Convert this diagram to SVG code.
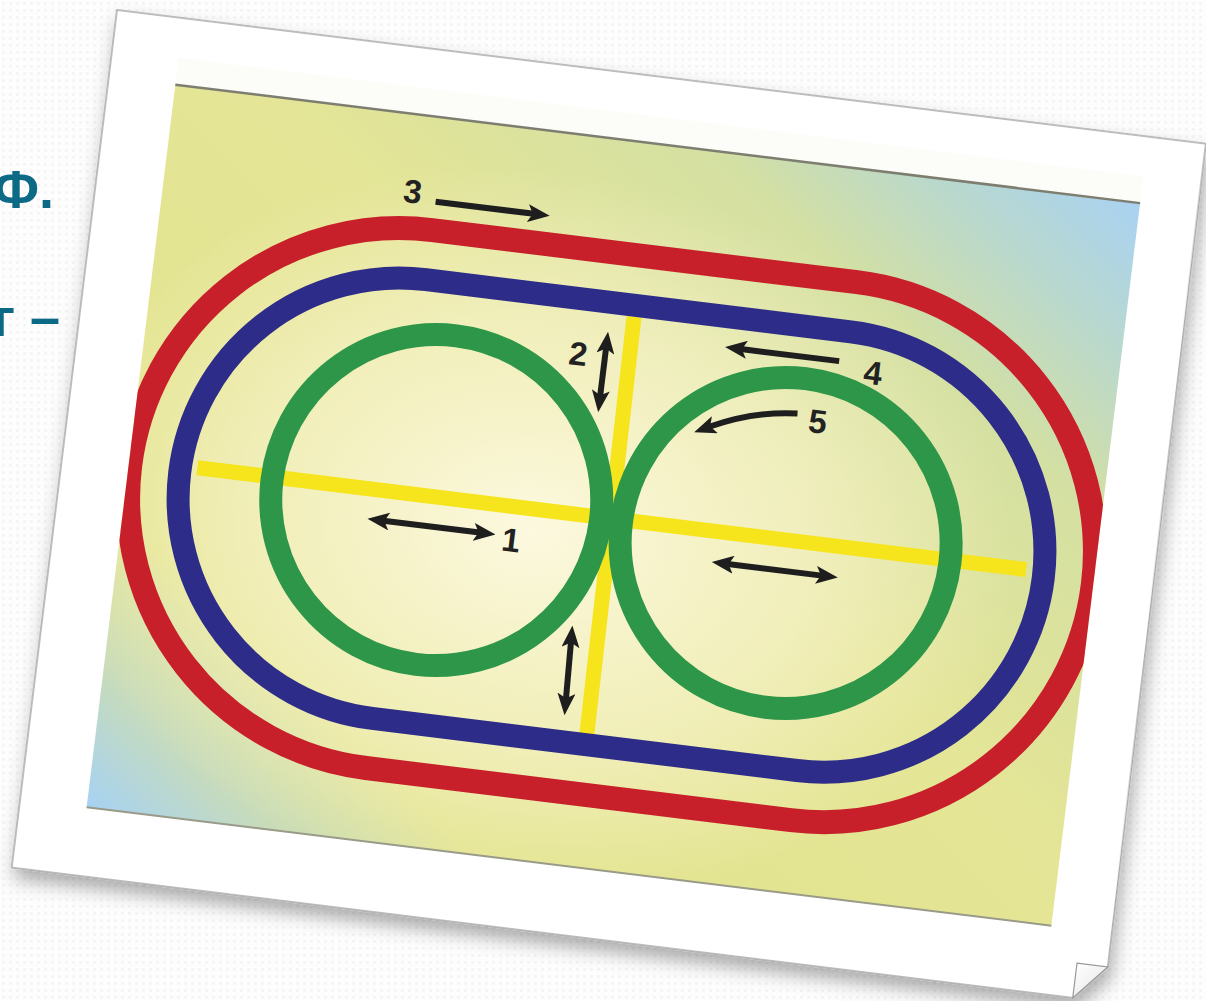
<svg xmlns="http://www.w3.org/2000/svg" width="1206" height="1001" viewBox="0 0 1206 1001">
  <defs>
    <pattern id="tex" width="7" height="7" patternUnits="userSpaceOnUse">
      <rect width="7" height="7" fill="#fdfdfd"/>
      <circle cx="3.5" cy="3.5" r="1.4" fill="#f3f3f3"/>
    </pattern>
    <filter id="shadow" x="-10%" y="-10%" width="120%" height="125%">
      <feDropShadow dx="4" dy="10" stdDeviation="9" flood-color="#000" flood-opacity="0.32"/>
    </filter>
    <linearGradient id="bg" x1="0" y1="1" x2="1" y2="0">
      <stop offset="0" stop-color="#a6d2f3"/>
      <stop offset="0.1" stop-color="#c9dcb8"/>
      <stop offset="0.2" stop-color="#e3e48e"/>
      <stop offset="0.55" stop-color="#e4e596"/>
      <stop offset="0.78" stop-color="#d4e0a2"/>
      <stop offset="0.9" stop-color="#b8d8cf"/>
      <stop offset="1" stop-color="#a9d2f2"/>
    </linearGradient>
    <radialGradient id="glow" cx="0.42" cy="0.55" r="0.5">
      <stop offset="0" stop-color="#fffbe8" stop-opacity="0.9"/>
      <stop offset="0.6" stop-color="#fbf6d6" stop-opacity="0.55"/>
      <stop offset="1" stop-color="#fbf6d6" stop-opacity="0"/>
    </radialGradient>
    <linearGradient id="fold" x1="0" y1="0" x2="1" y2="1">
      <stop offset="0" stop-color="#ffffff"/>
      <stop offset="1" stop-color="#e4e4e4"/>
    </linearGradient>
    <clipPath id="pic">
      <rect x="67" y="67" width="972" height="728"/>
    </clipPath>
    <marker id="ah" viewBox="0 0 22 18" refX="6" refY="9" markerWidth="22" markerHeight="18" markerUnits="userSpaceOnUse" orient="auto-start-reverse">
      <path d="M0,0 L22,9 L0,18 L5,9 Z" fill="#1e1e1e"/>
    </marker>
    <style>
      .band{fill:none;stroke-linejoin:round}
      .red{stroke:#c8202b;stroke-width:24}
      .blue{stroke:#2d2c88;stroke-width:23}
      .green{stroke:#2e9648;stroke-width:23}
      .yellow{stroke:#f6e41c;stroke-width:15;fill:none}
      .arr{stroke:#1e1e1e;stroke-width:6;fill:none}
      .lbl{font-family:"Liberation Sans",Arial,sans-serif;font-weight:bold;font-size:33px;fill:#222;text-anchor:middle}
      .side{font-family:"Liberation Sans",Arial,sans-serif;font-weight:bold;font-size:54px;fill:#0d6a86;text-anchor:end}
    </style>
  </defs>

  <rect width="1206" height="1001" fill="url(#tex)"/>

  <g id="side-text">
    <text class="side" x="54" y="208">Ф.</text>
    <text class="side" x="60" y="336">г –</text>
  </g>

  <g id="photo" transform="translate(117,10) rotate(7)">
    <path id="paper" d="M0,0 H1097 L1100,829 L1069,864 H0 Z" fill="#fff" stroke="#a8a8a8" stroke-width="1.5" filter="url(#shadow)"/>
    <path id="fold-corner" d="M1069,829 H1100 L1069,864 Z" fill="url(#fold)" stroke="#9a9a9a" stroke-width="1.2"/>
    <rect x="67" y="40" width="972" height="27" fill="#fcfcf8"/>
    <g id="picture">
      <rect x="67" y="67" width="972" height="728" fill="url(#bg)"/>
      <rect x="67" y="67" width="972" height="728" fill="url(#glow)"/>
      <line x1="67" y1="67" x2="1039" y2="67" stroke="#7d7d70" stroke-width="2.5"/>
      <line x1="67" y1="795" x2="1039" y2="795" stroke="#9a9a88" stroke-width="2"/>
    </g>
    <g clip-path="url(#pic)">
      <g id="track" transform="translate(552.6,447.5)">
        <g id="yellow-lines">
          <line class="yellow" x1="-417" y1="-3" x2="418" y2="-3"/>
          <line class="yellow" x1="-2" y1="-206" x2="2" y2="214"/>
        </g>
        <path id="red-oval" class="band red" d="M-213,-267.5 H215 A271,271 0 0 1 215,274.5 H-213 A271,271 0 0 1 -213,-267.5 Z"/>
        <path id="blue-oval" class="band blue" d="M-213,-217.5 H215 A221,221 0 0 1 215,224.5 H-213 A221,221 0 0 1 -213,-217.5 Z"/>
        <circle id="green-left" class="band green" cx="-176" cy="0" r="165.5"/>
        <circle id="green-right" class="band green" cx="176" cy="0" r="165.5"/>

        <g id="connectors">
          <line class="arr" x1="-213" y1="-296" x2="-114" y2="-296" marker-end="url(#ah)"/>
          <line class="arr" x1="207" y1="-187" x2="108" y2="-187" marker-end="url(#ah)"/>
          <path class="arr" d="M172,-130 Q128,-127 86,-106" marker-end="url(#ah)"/>
          <line class="arr" x1="-26" y1="-172" x2="-26" y2="-123" marker-start="url(#ah)" marker-end="url(#ah)"/>
          <line class="arr" x1="-25" y1="124" x2="-23" y2="182" marker-start="url(#ah)" marker-end="url(#ah)"/>
          <line class="arr" x1="-226" y1="27" x2="-129" y2="27" marker-start="url(#ah)" marker-end="url(#ah)"/>
          <line class="arr" x1="121" y1="28" x2="216" y2="28" marker-start="url(#ah)" marker-end="url(#ah)"/>
        </g>

        <g id="label-3"><text class="lbl" x="-237" y="-292">3</text></g>
        <g id="label-2"><text class="lbl" x="-53" y="-151">2</text></g>
        <g id="label-4"><text class="lbl" x="242" y="-168">4</text></g>
        <g id="label-5"><text class="lbl" x="193" y="-113">5</text></g>
        <g id="label-1"><text class="lbl" x="-97" y="42">1</text></g>
      </g>
    </g>
  </g>
</svg>
